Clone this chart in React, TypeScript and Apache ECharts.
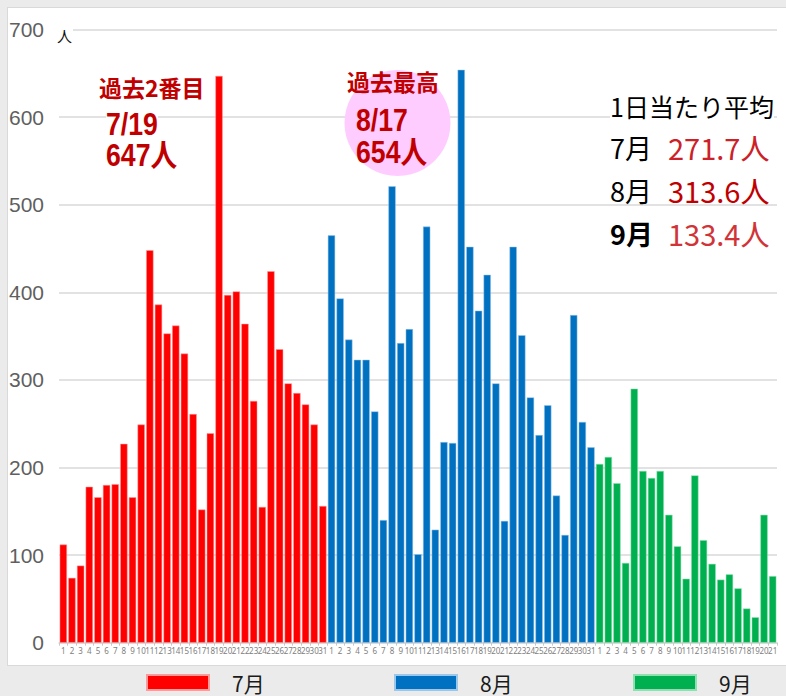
import React, { useEffect, useRef } from "react";
import * as echarts from "echarts";

const julyValues = [112, 74, 88, 178, 166, 180, 181, 227, 166, 249, 448, 386, 353, 362, 330, 261, 152, 239, 647, 397, 401, 364, 276, 155, 424, 335, 296, 285, 272, 249, 156];
const augValues = [465, 393, 346, 323, 323, 264, 140, 521, 342, 358, 101, 475, 129, 229, 228, 654, 452, 379, 420, 296, 139, 452, 351, 280, 237, 271, 168, 123, 374, 252, 223];
const sepValues = [204, 212, 182, 91, 290, 196, 188, 196, 146, 110, 73, 191, 117, 90, 72, 78, 62, 39, 29, 146, 76];
const monthNames = ["7月", "8月", "9月"];
const averageValues = ["271.7人", "313.6人", "133.4人"];
const yTicks = { min: 0, max: 700, interval: 100 };

const categories = [
  ...julyValues.map((_, i) => `7-${i + 1}`),
  ...augValues.map((_, i) => `8-${i + 1}`),
  ...sepValues.map((_, i) => `9-${i + 1}`),
];

const pad = (n: number) => Array(n).fill("-");
const julySeries = [...julyValues, ...pad(augValues.length + sepValues.length)];
const augSeries = [...pad(julyValues.length), ...augValues, ...pad(sepValues.length)];
const sepSeries = [...pad(julyValues.length + augValues.length), ...sepValues];

const LAT = '"Liberation Sans", "Noto Sans CJK JP", sans-serif';
const JP = '"Noto Sans CJK JP", "Noto Sans", sans-serif';

export default function App() {
  const ref = useRef<HTMLDivElement>(null);
  useEffect(() => {
    if (!ref.current) return;
    const chart = echarts.init(ref.current, undefined, { renderer: "svg" });
    const red = "#c00000";
    const legendBase = {
      top: 672,
      padding: 0,
      icon: "rect",
      itemWidth: 62,
      itemHeight: 15,
      selectedMode: false,
      textStyle: { fontSize: 21, color: "#1a1a1a", fontFamily: JP, padding: [0, 0, 0, 18] },
    };
    const cond = (x: number, y: number, text: string, size: number, fill: string, sx: number, extra: any = {}) => ({
      type: "text",
      z: 10,
      x,
      y,
      scaleX: sx,
      style: { x: 0, y: 0, text, font: `bold ${size}px ${LAT}`, fill, verticalAlign: "middle", ...extra },
    });
    chart.setOption({
      animation: false,
      backgroundColor: "transparent",
      grid: { left: 59, right: 9, top: 29.5, bottom: 53.3 },
      legend: [
        { ...legendBase, left: 146, data: [monthNames[0]] },
        { ...legendBase, left: 394, data: [monthNames[1]] },
        { ...legendBase, left: 633, data: [monthNames[2]] },
      ],
      xAxis: {
        type: "category",
        data: categories,
        axisLine: { lineStyle: { color: "#d9d9d9", width: 1.5 } },
        axisTick: { show: true, interval: 0, length: 3, lineStyle: { color: "#c8c8c8" } },
        axisLabel: {
          interval: 0,
          fontSize: 8,
          color: "#808080",
          margin: 4,
          fontFamily: '"Noto Sans", sans-serif',
          formatter: (v: string) => v.split("-")[1],
        },
      },
      yAxis: {
        type: "value",
        min: yTicks.min,
        max: yTicks.max,
        interval: yTicks.interval,
        axisLine: { show: false },
        axisTick: { show: false },
        splitLine: { lineStyle: { color: "#d9d9d9", width: 1.5 } },
        axisLabel: { fontSize: 21, color: "#5f5f5f", fontFamily: '"Liberation Sans", sans-serif', margin: 15 },
      },
      series: [
        { name: monthNames[0], type: "bar", stack: "m", data: julySeries, barCategoryGap: "16%", itemStyle: { color: "#ff0000", borderColor: "#ff9a9a", borderWidth: 0.5 } },
        { name: monthNames[1], type: "bar", stack: "m", data: augSeries, itemStyle: { color: "#0070c0", borderColor: "#9cc7e8", borderWidth: 0.5 } },
        { name: monthNames[2], type: "bar", stack: "m", data: sepSeries, itemStyle: { color: "#00b050", borderColor: "#8fe0b0", borderWidth: 0.5 } },
      ],
      graphic: [
        { type: "text", z: 10, style: { x: 56, y: 35, text: "人", font: `15px ${JP}`, fill: "#111", verticalAlign: "middle", backgroundColor: "#fff", padding: [0, 1, 0, 1] } },
        { type: "text", z: 10, style: { x: 99, y: 87, text: "過去2番目", font: `bold 23px ${JP}`, fill: red, verticalAlign: "middle" } },
        cond(106, 124, "7/19", 31, red, 0.86, { backgroundColor: "#fff" }),
        cond(106, 155, "647人", 31, red, 0.86),
        { type: "circle", z: 9, shape: { cx: 397.5, cy: 123, r: 53 }, style: { fill: "#ffccff" } },
        { type: "text", z: 10, style: { x: 347, y: 81, text: "過去最高", font: `bold 23px ${JP}`, fill: red, verticalAlign: "middle" } },
        cond(356, 120, "8/17", 31, red, 0.86),
        cond(356, 152, "654人", 31, red, 0.86),
        { type: "text", z: 10, style: { x: 610, y: 106, text: "1日当たり平均", font: `25px ${JP}`, fill: "#000", verticalAlign: "middle", backgroundColor: "#fff" } },
        { type: "text", z: 10, style: { x: 610, y: 147, text: monthNames[0], font: `27px ${JP}`, fill: "#000", verticalAlign: "middle" } },
        { type: "text", z: 10, style: { x: 668, y: 147, text: averageValues[0], font: `29px ${JP}`, fill: "#cc2128", verticalAlign: "middle" } },
        { type: "text", z: 10, style: { x: 610, y: 190, text: monthNames[1], font: `27px ${JP}`, fill: "#000", verticalAlign: "middle" } },
        { type: "text", z: 10, style: { x: 668, y: 190, text: averageValues[1], font: `29px ${JP}`, fill: "#c00000", verticalAlign: "middle" } },
        { type: "text", z: 10, style: { x: 610, y: 233, text: monthNames[2], font: `bold 27px ${JP}`, fill: "#000", verticalAlign: "middle" } },
        { type: "text", z: 10, style: { x: 668, y: 233, text: averageValues[2], font: `29px ${JP}`, fill: "#d13438", verticalAlign: "middle" } },
      ],
    });
    return () => chart.dispose();
  }, []);
  return (
    <div style={{ position: "fixed", left: 0, top: 0, width: 786, height: 696, background: "#ebebeb", overflow: "hidden" }}>
      <div style={{ position: "absolute", left: 7, top: 7, width: 800, height: 659, background: "#fff", border: "1.5px solid #d9d9d9", boxSizing: "border-box" }} />
      <div ref={ref} style={{ position: "absolute", left: 0, top: 0, width: 786, height: 696 }} />
    </div>
  );
}
